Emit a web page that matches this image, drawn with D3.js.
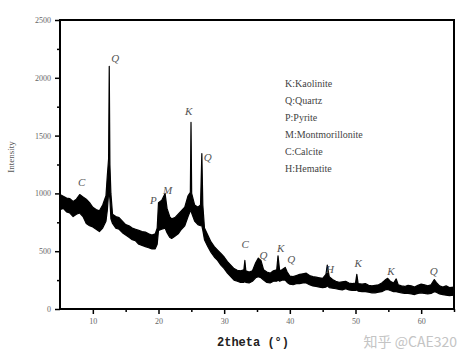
<!DOCTYPE html>
<html>
<head>
<meta charset="utf-8">
<script src="https://cdn.jsdelivr.net/npm/d3@7"></script>
<style>
  body { margin: 0; background: #fff; }
  svg { display: block; }
</style>
</head>
<body>
<div id="chart"></div>
<script>
// diffraction trace, drawn as a band between an upper and a lower edge
const twoTheta = [5.0, 5.5, 6.0, 6.5, 7.0, 7.5, 8.0, 8.5, 9.0, 9.5, 10.0, 10.5, 11.0, 11.5, 12.0, 12.2, 12.4, 12.5, 12.6, 12.75,
  13.0, 13.5, 14.0, 14.5, 15.0, 15.5, 16.0, 16.5, 17.0, 17.5, 18.0, 18.5, 19.0, 19.5, 19.8, 20.0, 20.5, 21.0, 21.3, 21.7,
  22.0, 22.5, 23.0, 23.5, 24.0, 24.5, 24.85, 24.95, 25.05, 25.5, 26.0, 26.4, 26.6, 26.75, 27.0, 27.5, 28.0, 28.5, 29.0, 29.5,
  30.0, 30.5, 31.0, 31.5, 32.0, 32.5, 33.0, 33.15, 33.3, 33.8, 34.3, 34.8, 35.2, 35.6, 36.0, 36.5, 37.0, 37.5, 38.0, 38.2,
  38.45, 38.8, 39.3, 39.6, 40.0, 40.5, 41.0, 41.5, 42.0, 42.5, 43.0, 43.5, 44.0, 44.5, 45.0, 45.5, 45.7, 46.0, 46.5, 47.0,
  47.5, 48.0, 48.5, 49.0, 49.5, 50.0, 50.2, 50.4, 51.0, 51.5, 52.0, 52.5, 53.0, 53.5, 54.0, 54.5, 54.9, 55.3, 55.8, 56.2,
  56.5, 57.0, 57.5, 58.0, 58.5, 59.0, 59.5, 60.0, 60.5, 61.0, 61.5, 62.0, 62.3, 62.8, 63.3, 63.8, 64.3, 65.0];
const upper = [990, 975, 960, 955, 930, 950, 990, 970, 950, 920, 880, 860, 850, 900, 980, 1150, 1300, 2100, 1250, 1000,
  820, 800, 790, 760, 730, 720, 700, 690, 680, 670, 665, 650, 640, 650, 700, 920, 940, 1000, 870, 800,
  780, 790, 820, 850, 880, 980, 1010, 1615, 1000, 900, 880, 900, 1345, 900, 700, 640, 580, 540, 510, 480,
  450, 410, 380, 350, 335, 330, 340, 420, 330, 320, 330, 400, 440, 420, 340, 320, 310, 330, 340, 460,
  330, 340, 360, 320, 285, 280, 290, 300, 305, 310, 290, 280, 275, 270, 265, 300, 380, 280, 255, 240,
  230, 235, 240, 225, 220, 225, 300, 220, 215, 220, 205, 200, 205, 210, 225, 250, 265, 240, 225, 260,
  210, 200, 195, 205, 200, 190, 205, 215, 210, 200, 210, 255, 230, 200, 190, 200, 185, 190];
const lower = [860, 870, 840, 830, 800, 820, 830, 800, 740, 720, 710, 690, 670, 700, 760, 850, 1000, 1000, 950, 780,
  740, 700, 690, 660, 640, 620, 600, 590, 560, 550, 540, 530, 520, 520, 560, 680, 690, 700, 660, 620,
  610, 630, 650, 690, 720, 800, 850, 850, 830, 760, 730, 720, 720, 680, 600, 540, 490, 450, 420, 380,
  350, 310, 280, 250, 240, 230, 230, 240, 230, 225, 240, 270, 280, 270, 250, 230, 225, 240, 240, 250,
  240, 250, 250, 230, 215, 210, 220, 220, 225, 225, 210, 200, 195, 190, 185, 190, 200, 185, 180, 175,
  170, 165, 175, 165, 160, 160, 165, 155, 150, 150, 145, 140, 140, 145, 150, 165, 170, 160, 150, 150,
  145, 140, 135, 135, 130, 125, 135, 140, 135, 130, 135, 150, 145, 130, 125, 120, 115, 120];

// phase letters placed over the peaks
const peakLetters = ["C", "Q", "P", "M", "K", "Q", "C", "Q", "K", "Q", "H", "K", "K", "Q"];
const peakAt = [8.3, 13.4, 19.2, 21.4, 24.6, 27.5, 33.2, 36.0, 38.6, 40.2, 46.1, 50.4, 55.4, 61.9];
const peakLevel = [1060, 2135, 911, 998, 1675, 1276, 530, 434, 495, 400, 313, 365, 295, 295];

const legendItems = ["K:Kaolinite", "Q:Quartz", "P:Pyrite", "M:Montmorillonite", "C:Calcite", "H:Hematite"];

const xMajor = [10, 20, 30, 40, 50, 60];
const xMinor = [15, 25, 35, 45, 55, 65];
const yMajor = [0, 500, 1000, 1500, 2000, 2500];
const yMinor = [250, 750, 1250, 1750, 2250];

const width = 470;
const height = 356;
const margin = { top: 20, right: 16, bottom: 47, left: 60 };
const plotW = width - margin.left - margin.right;
const plotH = height - margin.top - margin.bottom;

const svg = d3.select("#chart")
  .append("svg")
  .attr("width", width)
  .attr("height", height);

const g = svg.append("g")
  .attr("transform", `translate(${margin.left},${margin.top})`);

const x = d3.scaleLinear().domain([5, 65]).range([0, plotW]);
const y = d3.scaleLinear().domain([0, 2500]).range([plotH, 0]);

const pts = twoTheta.map((t, i) => ({ t: t, hi: upper[i], lo: lower[i] }));

const band = d3.area()
  .x(d => x(d.t))
  .y0(d => y(d.lo))
  .y1(d => y(d.hi));

g.append("path")
  .datum(pts)
  .attr("d", band)
  .attr("fill", "#000")
  .attr("stroke", "#000")
  .attr("stroke-width", 1.2)
  .attr("stroke-linejoin", "round");

// axes
const tickFont = "'Liberation Serif', 'DejaVu Serif', serif";

const xAxis = g.append("g")
  .attr("transform", `translate(0,${plotH})`)
  .call(d3.axisBottom(x).tickValues(xMajor).tickSize(5).tickPadding(4).tickFormat(d3.format("d")));
const xAxisMinor = g.append("g")
  .attr("transform", `translate(0,${plotH})`)
  .call(d3.axisBottom(x).tickValues(xMinor).tickSize(3).tickFormat(""));
const yAxis = g.append("g")
  .call(d3.axisLeft(y).tickValues(yMajor).tickSize(5).tickPadding(4).tickFormat(d3.format("d")));
const yAxisMinor = g.append("g")
  .call(d3.axisLeft(y).tickValues(yMinor).tickSize(3).tickFormat(""));

[xAxis, xAxisMinor, yAxis, yAxisMinor].forEach(a => {
  a.select(".domain").remove();
  a.selectAll(".tick line").attr("stroke", "#000").attr("stroke-width", 1.5);
  a.selectAll(".tick text")
    .attr("fill", "#666")
    .style("font-family", tickFont)
    .style("font-size", "8px");
});

// frame
g.append("rect")
  .attr("x", 0)
  .attr("y", 0)
  .attr("width", plotW)
  .attr("height", plotH)
  .attr("fill", "none")
  .attr("stroke", "#000")
  .attr("stroke-width", 2);

// peak letters
g.selectAll(".peak")
  .data(peakLetters)
  .enter()
  .append("text")
  .attr("class", "peak")
  .attr("x", (d, i) => x(peakAt[i]))
  .attr("y", (d, i) => y(peakLevel[i]))
  .attr("text-anchor", "middle")
  .attr("fill", "#555")
  .style("font-family", tickFont)
  .style("font-style", "italic")
  .style("font-size", "11px")
  .text(d => d);

// legend
g.selectAll(".legend")
  .data(legendItems)
  .enter()
  .append("text")
  .attr("class", "legend")
  .attr("x", 225)
  .attr("y", (d, i) => 67 + i * 17)
  .attr("fill", "#444")
  .style("font-family", tickFont)
  .style("font-size", "10px")
  .text(d => d);

// axis titles
svg.append("text")
  .attr("transform", "translate(14,157) rotate(-90)")
  .attr("text-anchor", "middle")
  .attr("fill", "#555")
  .style("font-family", tickFont)
  .style("font-size", "9px")
  .text("Intensity");

svg.append("text")
  .attr("x", 253)
  .attr("y", 346)
  .attr("text-anchor", "middle")
  .attr("fill", "#222")
  .style("font-family", "'Liberation Mono', 'DejaVu Sans Mono', monospace")
  .style("font-weight", "bold")
  .style("font-size", "12px")
  .text("2theta (°)");

// watermark
svg.append("text")
  .attr("x", 457)
  .attr("y", 347)
  .attr("text-anchor", "end")
  .attr("fill", "#c4c4c4")
  .style("font-family", "'Noto Sans CJK SC', sans-serif")
  .style("font-size", "14px")
  .text("知乎 @CAE320");
</script>
</body>
</html>
